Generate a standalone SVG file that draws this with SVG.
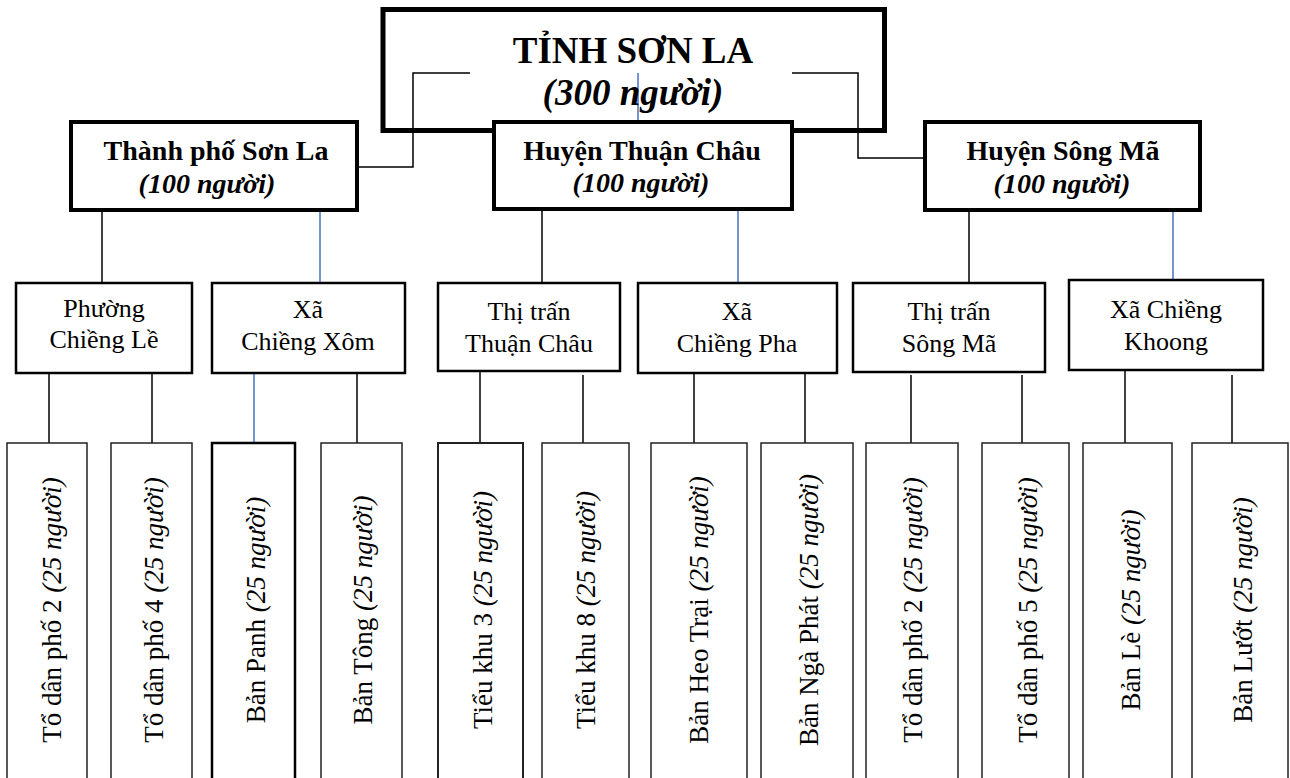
<svg xmlns="http://www.w3.org/2000/svg" width="1290" height="778" viewBox="0 0 1290 778">
<style>
text{font-family:"Liberation Serif","Times New Roman",serif;fill:#000}
.b{font-weight:bold}
.i{font-style:italic}
.t1{font-size:37px}
.t2{font-size:28px}
.t3{font-size:26px}
.t4{font-size:27px}
.box1{fill:#fff;stroke:#000;stroke-width:5}
.box2{fill:#fff;stroke:#000;stroke-width:4}
.box3{fill:#fff;stroke:#000;stroke-width:2.5}
.box4{fill:#fff;stroke:#222;stroke-width:1.5}
.c{fill:none;stroke:#000;stroke-width:1.5}
.cb{fill:none;stroke:#4472C4;stroke-width:1.5}
</style>
<rect width="1290" height="778" fill="#fff"/>

<g id="connectors">
  <polyline class="c" points="470,73 413,73 413,167 357,167"/>
  <polyline class="c" points="792,73 858,73 858,158 925,158"/>
  <line class="cb" x1="638" y1="73" x2="638" y2="122"/>
  <line class="c" x1="102" y1="210" x2="102" y2="283"/>
  <line class="cb" x1="320" y1="210" x2="320" y2="283"/>
  <line class="c" x1="542" y1="209" x2="542" y2="283"/>
  <line class="cb" x1="738" y1="209" x2="738" y2="283"/>
  <line class="c" x1="969" y1="210" x2="969" y2="283"/>
  <line class="cb" x1="1173" y1="210" x2="1173" y2="280"/>
  <line class="c" x1="49" y1="373" x2="49" y2="443"/>
  <line class="c" x1="152" y1="373" x2="152" y2="443"/>
  <line class="cb" x1="254" y1="373" x2="254" y2="443"/>
  <line class="c" x1="357" y1="373" x2="357" y2="443"/>
  <line class="c" x1="480" y1="371" x2="480" y2="443"/>
  <line class="c" x1="583" y1="375" x2="583" y2="443"/>
  <line class="c" x1="694" y1="373" x2="694" y2="443"/>
  <line class="c" x1="805" y1="373" x2="805" y2="443"/>
  <line class="c" x1="911" y1="375" x2="911" y2="443"/>
  <line class="c" x1="1022" y1="375" x2="1022" y2="443"/>
  <line class="c" x1="1125" y1="370" x2="1125" y2="443"/>
  <line class="c" x1="1232" y1="375" x2="1232" y2="443"/>
</g>

<g id="tinh-son-la">
  <rect class="box1" x="383" y="9.5" width="501.5" height="121" fill="none" style="fill:none"/>
  <text class="b t1" x="633" y="63" text-anchor="middle">TỈNH SƠN LA</text>
  <text class="b i t1" x="633" y="105" text-anchor="middle">(300 người)</text>
</g>

<g id="tp-son-la">
  <rect class="box2" x="71" y="122" width="286" height="88"/>
  <text class="b t2" x="216" y="160" text-anchor="middle">Thành phố Sơn La</text>
  <text class="b i t2" x="207" y="193" text-anchor="middle">(100 người)</text>
</g>
<g id="h-thuan-chau">
  <rect class="box2" x="494" y="122" width="298" height="87"/>
  <text class="b t2" x="642" y="160" text-anchor="middle">Huyện Thuận Châu</text>
  <text class="b i t2" x="641" y="192" text-anchor="middle">(100 người)</text>
</g>
<g id="h-song-ma">
  <rect class="box2" x="925" y="122" width="275" height="88"/>
  <text class="b t2" x="1063" y="160" text-anchor="middle">Huyện Sông Mã</text>
  <text class="b i t2" x="1062" y="193" text-anchor="middle">(100 người)</text>
</g>

<g id="p-chieng-le">
  <rect class="box3" x="16" y="283" width="176" height="90"/>
  <text class="t3" x="104" y="317" text-anchor="middle">Phường</text>
  <text class="t3" x="104" y="348" text-anchor="middle">Chiềng Lề</text>
</g>
<g id="x-chieng-xom">
  <rect class="box3" x="212" y="283" width="193" height="90"/>
  <text class="t3" x="308" y="318" text-anchor="middle">Xã</text>
  <text class="t3" x="308" y="350" text-anchor="middle">Chiềng Xôm</text>
</g>
<g id="tt-thuan-chau">
  <rect class="box3" x="438" y="283" width="182" height="88"/>
  <text class="t3" x="529" y="320" text-anchor="middle">Thị trấn</text>
  <text class="t3" x="529" y="352" text-anchor="middle">Thuận Châu</text>
</g>
<g id="x-chieng-pha">
  <rect class="box3" x="638" y="283" width="199" height="90"/>
  <text class="t3" x="737" y="320" text-anchor="middle">Xã</text>
  <text class="t3" x="737" y="352" text-anchor="middle">Chiềng Pha</text>
</g>
<g id="tt-song-ma">
  <rect class="box3" x="853" y="283" width="192" height="89"/>
  <text class="t3" x="949" y="320" text-anchor="middle">Thị trấn</text>
  <text class="t3" x="949" y="352" text-anchor="middle">Sông Mã</text>
</g>
<g id="x-chieng-khoong">
  <rect class="box3" x="1069" y="280" width="194" height="90"/>
  <text class="t3" x="1166" y="318" text-anchor="middle">Xã Chiềng</text>
  <text class="t3" x="1166" y="350" text-anchor="middle">Khoong</text>
</g>

<g id="to-dan-pho-2-a">
  <rect class="box4" x="7" y="443" width="80" height="350"/>
  <text class="t4" transform="translate(61,610) rotate(-90)" text-anchor="middle">Tổ dân phố 2 <tspan class="i">(25 người)</tspan></text>
</g>
<g id="to-dan-pho-4">
  <rect class="box4" x="111" y="443" width="81" height="350"/>
  <text class="t4" transform="translate(163,610) rotate(-90)" text-anchor="middle">Tổ dân phố 4 <tspan class="i">(25 người)</tspan></text>
</g>
<g id="ban-panh">
  <rect class="box4" x="212" y="443" width="83" height="350" style="stroke-width:2.5;stroke:#000"/>
  <text class="t4" transform="translate(265,610) rotate(-90)" text-anchor="middle">Bản Panh <tspan class="i">(25 người)</tspan></text>
</g>
<g id="ban-tong">
  <rect class="box4" x="321" y="443" width="81" height="350"/>
  <text class="t4" transform="translate(372,610) rotate(-90)" text-anchor="middle">Bản Tông <tspan class="i">(25 người)</tspan></text>
</g>
<g id="tieu-khu-3">
  <rect class="box4" x="438" y="443" width="85" height="350" style="stroke-width:2"/>
  <text class="t4" transform="translate(492,610) rotate(-90)" text-anchor="middle">Tiểu khu 3 <tspan class="i">(25 người)</tspan></text>
</g>
<g id="tieu-khu-8">
  <rect class="box4" x="542" y="443" width="87" height="350"/>
  <text class="t4" transform="translate(595,610) rotate(-90)" text-anchor="middle">Tiểu khu 8 <tspan class="i">(25 người)</tspan></text>
</g>
<g id="ban-heo-trai">
  <rect class="box4" x="651" y="443" width="96" height="350"/>
  <text class="t4" transform="translate(708,610) rotate(-90)" text-anchor="middle">Bản Heo Trại <tspan class="i">(25 người)</tspan></text>
</g>
<g id="ban-nga-phat">
  <rect class="box4" x="761" y="443" width="92" height="350"/>
  <text class="t4" transform="translate(818,610) rotate(-90)" text-anchor="middle">Bản Ngà Phát <tspan class="i">(25 người)</tspan></text>
</g>
<g id="to-dan-pho-2-b">
  <rect class="box4" x="866" y="443" width="92" height="350"/>
  <text class="t4" transform="translate(922,610) rotate(-90)" text-anchor="middle">Tổ dân phố 2 <tspan class="i">(25 người)</tspan></text>
</g>
<g id="to-dan-pho-5">
  <rect class="box4" x="982" y="443" width="87" height="350"/>
  <text class="t4" transform="translate(1037,610) rotate(-90)" text-anchor="middle">Tổ dân phố 5 <tspan class="i">(25 người)</tspan></text>
</g>
<g id="ban-le">
  <rect class="box4" x="1083" y="443" width="89" height="350"/>
  <text class="t4" transform="translate(1140,610) rotate(-90)" text-anchor="middle">Bản Lè <tspan class="i">(25 người)</tspan></text>
</g>
<g id="ban-luot">
  <rect class="box4" x="1192" y="443" width="96" height="350"/>
  <text class="t4" transform="translate(1252,610) rotate(-90)" text-anchor="middle">Bản Lướt <tspan class="i">(25 người)</tspan></text>
</g>
</svg>
